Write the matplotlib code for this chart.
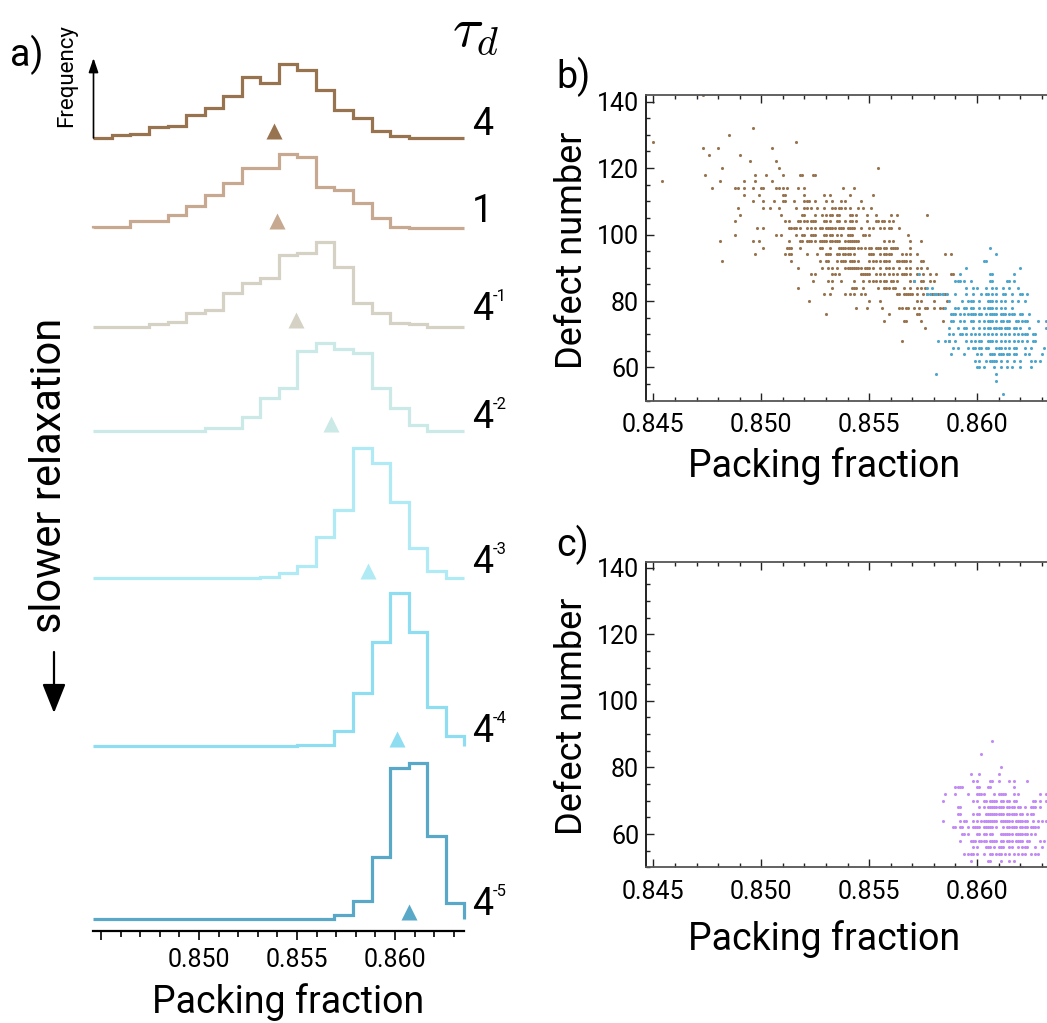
import numpy as np
import matplotlib
matplotlib.use("Agg")
import matplotlib.pyplot as plt
from matplotlib.patches import FancyArrowPatch
from matplotlib.ticker import MultipleLocator, FixedLocator

plt.rcParams['font.family'] = ['Roboto', 'Liberation Sans', 'DejaVu Sans']
plt.rcParams['font.weight'] = 'normal'

# ---------------- data: panel a (histograms) ----------------
BIN_LO, BIN_HI, N_BINS = 0.84461, 0.86354, 20
tau_base = ['4', '1', '4', '4', '4', '4', '4']
tau_exp = ['', '', '-1', '-2', '-3', '-4', '-5']
hist_colors = ['#98734F', '#C6A990', '#D5D2C5', '#CBE9E7', '#B0EBF5', '#8EDDF1', '#5AA8C8']
freq_4 = [0, 2.7, 3.7, 10.7, 11.3, 22.7, 30, 42, 61, 54.3, 74, 67.7, 47.7, 27.7, 19.3, 6.7, 1.7, 0, 0, 0]
freq_1 = [1, 1, 6.7, 6.7, 12.7, 22, 32.7, 45, 59.3, 59.3, 73.7, 71, 40.3, 37.7, 24.3, 9.3, 1, 0, 0, 0]
freq_4m1 = [0, 0, 0, 2.4, 4.4, 14, 16.7, 33.4, 43.4, 48.4, 71.7, 73.4, 85, 60, 23.4, 13.4, 3.4, 2.4, 0, 0]
freq_4m2 = [0, 0, 0, 0, 0, 0, 2.7, 2.7, 13.7, 32.7, 43.3, 80.3, 87.7, 81.7, 78.3, 42.7, 22.7, 6, 0, 0]
freq_4m3 = [0, 0, 0, 0, 0, 0, 0, 0, 0, 1.7, 5, 12.7, 41.7, 68.3, 130, 115, 76, 30, 7.7, 0]
freq_4m4 = [0, 0, 0, 0, 0, 0, 0, 0, 0, 0, 0, 1, 1, 15, 52.7, 104.3, 153, 113.7, 39.3, 10]
freq_4m5 = [0, 0, 0, 0, 0, 0, 0, 0, 0, 0, 0, 0, 0, 4.3, 18.3, 62.7, 151, 156.7, 83.3, 16]
mean_phi = [0.85383, 0.85400, 0.85495, 0.85672, 0.85864, 0.86012, 0.86071]

# ---------------- data: panels b and c (defect number vs packing fraction) ----------------
brown_rows = {
    142: [0.8473], 132: [0.8496], 130: [0.8485], 128: [0.8450, 0.8516],
    126: [0.8473, 0.8480, 0.8505], 124: [0.8476, 0.8490], 122: [0.8495, 0.8507],
    120: [0.8482, 0.8508, 0.8554],
    118: [0.8474, 0.8497, 0.8502, 0.8510, 0.8518, 0.8519, 0.8524, 0.8525],
    116: [0.8454, 0.8481, 0.8492, 0.8497, 0.8505],
    114: [0.8477, 0.8488, 0.8489, 0.8492, 0.8496, 0.8500, 0.8501, 0.8507, 0.8508, 0.8510, 0.8512, 0.8517, 0.8520, 0.8538, 0.8543],
    112: [0.8492, 0.8499, 0.8510, 0.8511, 0.8520, 0.8529, 0.8532, 0.8541, 0.8552],
    110: [0.8496, 0.8501, 0.8506, 0.8510, 0.8511, 0.8515, 0.8520, 0.8521, 0.8522, 0.8525, 0.8530, 0.8533, 0.8537, 0.8539, 0.8546],
    108: [0.8489, 0.8501, 0.8504, 0.8508, 0.8516, 0.8520, 0.8521, 0.8523, 0.8526, 0.8529, 0.8533, 0.8534, 0.8536, 0.8537, 0.8539, 0.8541, 0.8545, 0.8547, 0.8551],
    106: [0.8490, 0.8509, 0.8519, 0.8520, 0.8525, 0.8528, 0.8530, 0.8532, 0.8533, 0.8535, 0.8536, 0.8541, 0.8542, 0.8544, 0.8549, 0.8553, 0.8560, 0.8563, 0.8577],
    104: [0.8488, 0.8511, 0.8513, 0.8517, 0.8518, 0.8520, 0.8521, 0.8523, 0.8524, 0.8525, 0.8529, 0.8530, 0.8532, 0.8535, 0.8536, 0.8539, 0.8541, 0.8542, 0.8544, 0.8549, 0.8553, 0.8554, 0.8556, 0.8557, 0.8559, 0.8561],
    102: [0.8498, 0.8501, 0.8513, 0.8514, 0.8515, 0.8516, 0.8518, 0.8521, 0.8523, 0.8525, 0.8527, 0.8528, 0.8530, 0.8531, 0.8532, 0.8533, 0.8534, 0.8536, 0.8537, 0.8538, 0.8540, 0.8541, 0.8542, 0.8543, 0.8546, 0.8550, 0.8552, 0.8555, 0.8557, 0.8559, 0.8560, 0.8564],
    100: [0.8488, 0.8507, 0.8509, 0.8516, 0.8519, 0.8520, 0.8523, 0.8524, 0.8525, 0.8529, 0.8530, 0.8532, 0.8533, 0.8535, 0.8537, 0.8540, 0.8541, 0.8542, 0.8547, 0.8548, 0.8550, 0.8568],
    98: [0.8481, 0.8496, 0.8499, 0.8513, 0.8518, 0.8519, 0.8521, 0.8522, 0.8523, 0.8525, 0.8527, 0.8528, 0.8529, 0.8530, 0.8532, 0.8533, 0.8534, 0.8535, 0.8536, 0.8539, 0.8540, 0.8541, 0.8542, 0.8543, 0.8544, 0.8545, 0.8557, 0.8559, 0.8561, 0.8569, 0.8574],
    96: [0.8501, 0.8512, 0.8513, 0.8514, 0.8518, 0.8527, 0.8528, 0.8532, 0.8536, 0.8537, 0.8538, 0.8539, 0.8540, 0.8541, 0.8542, 0.8543, 0.8545, 0.8546, 0.8548, 0.8550, 0.8551, 0.8553, 0.8554, 0.8555, 0.8557, 0.8558, 0.8560, 0.8561, 0.8562, 0.8563, 0.8569],
    94: [0.8497, 0.8511, 0.8513, 0.8514, 0.8521, 0.8526, 0.8530, 0.8531, 0.8532, 0.8535, 0.8536, 0.8538, 0.8539, 0.8540, 0.8541, 0.8543, 0.8550, 0.8551, 0.8552, 0.8555, 0.8557, 0.8558, 0.8559, 0.8560, 0.8565, 0.8567, 0.8569, 0.8572, 0.8585, 0.8588],
    92: [0.8482, 0.8514, 0.8527, 0.8530, 0.8531, 0.8535, 0.8537, 0.8538, 0.8539, 0.8541, 0.8542, 0.8543, 0.8545, 0.8550, 0.8552, 0.8553, 0.8555, 0.8557, 0.8558, 0.8559, 0.8563, 0.8564, 0.8565, 0.8566, 0.8567, 0.8569, 0.8574, 0.8575],
    90: [0.8517, 0.8528, 0.8531, 0.8533, 0.8535, 0.8539, 0.8540, 0.8541, 0.8542, 0.8543, 0.8544, 0.8545, 0.8546, 0.8548, 0.8549, 0.8550, 0.8552, 0.8555, 0.8558, 0.8559, 0.8561, 0.8564, 0.8567, 0.8569, 0.8572, 0.8574, 0.8577],
    88: [0.8523, 0.8525, 0.8533, 0.8534, 0.8536, 0.8546, 0.8547, 0.8548, 0.8549, 0.8550, 0.8553, 0.8555, 0.8557, 0.8559, 0.8561, 0.8563, 0.8565, 0.8566, 0.8567, 0.8569, 0.8572, 0.8575, 0.8578, 0.8581, 0.8588, 0.8589],
    86: [0.8524, 0.8531, 0.8533, 0.8537, 0.8543, 0.8547, 0.8550, 0.8552, 0.8553, 0.8555, 0.8557, 0.8558, 0.8560, 0.8561, 0.8563, 0.8569, 0.8571, 0.8574, 0.8575, 0.8578, 0.8580],
    84: [0.8517, 0.8533, 0.8542, 0.8543, 0.8544, 0.8547, 0.8554, 0.8557, 0.8558, 0.8559, 0.8561, 0.8562, 0.8566, 0.8569, 0.8572, 0.8574, 0.8576],
    82: [0.8529, 0.8532, 0.8539, 0.8541, 0.8543, 0.8546, 0.8548, 0.8563, 0.8564, 0.8566, 0.8567, 0.8568, 0.8569, 0.8570, 0.8572, 0.8575, 0.8577, 0.8579, 0.8580, 0.8582, 0.8584, 0.8585],
    80: [0.8522, 0.8550, 0.8555, 0.8572, 0.8574, 0.8580, 0.8586],
    78: [0.8544, 0.8549, 0.8556, 0.8564, 0.8565, 0.8567, 0.8568, 0.8571, 0.8573, 0.8576, 0.8577, 0.8580, 0.8583, 0.8584],
    76: [0.8530, 0.8559, 0.8572, 0.8573],
    74: [0.8557, 0.8566, 0.8567, 0.8574, 0.8584],
    72: [0.8576],
    68: [0.8565, 0.8587],
}
blue_rows = {
    96: [0.8606], 94: [0.8609], 92: [0.8603, 0.8604], 90: [0.8595, 0.8620],
    88: [0.8573, 0.8592, 0.8606, 0.8607, 0.8617],
    86: [0.8571, 0.8590, 0.8591, 0.8592, 0.8594, 0.8597, 0.8606, 0.8607, 0.8614, 0.8615, 0.8617],
    84: [0.8577, 0.8579, 0.8595, 0.8598, 0.8600, 0.8604, 0.8607, 0.8609, 0.8612, 0.8615, 0.8619],
    82: [0.8577, 0.8578, 0.8580, 0.8581, 0.8583, 0.8584, 0.8586, 0.8590, 0.8595, 0.8598, 0.8602, 0.8604, 0.8605, 0.8607, 0.8609, 0.8612, 0.8613, 0.8616, 0.8620, 0.8621, 0.8623],
    80: [0.8587, 0.8593, 0.8596, 0.8597, 0.8598, 0.8601, 0.8605, 0.8606, 0.8607, 0.8609, 0.8611, 0.8613, 0.8616, 0.8619, 0.8622],
    78: [0.8585, 0.8590, 0.8591, 0.8594, 0.8595, 0.8597, 0.8598, 0.8601, 0.8603, 0.8605, 0.8606, 0.8607, 0.8609, 0.8611, 0.8613, 0.8616],
    76: [0.8588, 0.8589, 0.8590, 0.8592, 0.8594, 0.8596, 0.8597, 0.8598, 0.8599, 0.8601, 0.8602, 0.8604, 0.8606, 0.8607, 0.8608, 0.8609, 0.8611, 0.8612, 0.8613, 0.8615, 0.8616, 0.8617, 0.8620, 0.8621, 0.8624],
    74: [0.8588, 0.8589, 0.8592, 0.8594, 0.8597, 0.8598, 0.8601, 0.8603, 0.8605, 0.8606, 0.8607, 0.8609, 0.8611, 0.8612, 0.8614, 0.8615, 0.8618, 0.8619, 0.8621, 0.8622, 0.8623, 0.8628, 0.8632],
    72: [0.8587, 0.8591, 0.8594, 0.8595, 0.8598, 0.8601, 0.8603, 0.8605, 0.8606, 0.8608, 0.8609, 0.8610, 0.8611, 0.8613, 0.8614, 0.8615, 0.8617, 0.8618, 0.8620, 0.8624, 0.8632],
    70: [0.8587, 0.8589, 0.8592, 0.8593, 0.8595, 0.8597, 0.8599, 0.8601, 0.8603, 0.8605, 0.8607, 0.8609, 0.8611, 0.8613, 0.8615, 0.8617, 0.8619, 0.8621, 0.8622, 0.8623, 0.8626, 0.8627],
    68: [0.8582, 0.8585, 0.8587, 0.8590, 0.8595, 0.8597, 0.8599, 0.8601, 0.8602, 0.8605, 0.8606, 0.8607, 0.8609, 0.8611, 0.8613, 0.8615, 0.8617, 0.8619, 0.8621, 0.8623, 0.8626, 0.8627],
    66: [0.8589, 0.8591, 0.8596, 0.8598, 0.8599, 0.8601, 0.8602, 0.8604, 0.8605, 0.8609, 0.8610, 0.8611, 0.8613, 0.8615, 0.8617, 0.8618, 0.8622, 0.8625, 0.8631],
    64: [0.8588, 0.8594, 0.8600, 0.8602, 0.8606, 0.8607, 0.8608, 0.8610, 0.8611, 0.8612, 0.8614, 0.8615, 0.8617, 0.8618, 0.8622, 0.8624, 0.8630],
    62: [0.8599, 0.8601, 0.8604, 0.8606, 0.8607, 0.8608, 0.8609, 0.8611, 0.8614, 0.8617, 0.8620, 0.8625, 0.8627, 0.8629],
    60: [0.8600, 0.8601, 0.8603, 0.8608, 0.8611, 0.8614, 0.8616, 0.8620, 0.8625],
    58: [0.8581, 0.8609], 56: [0.8609], 52: [0.8612],
}
purple_rows = {
    88: [0.8607], 84: [0.8602], 80: [0.8611], 78: [0.8597, 0.8601, 0.8610],
    76: [0.8598, 0.8600, 0.8606, 0.8607, 0.8610, 0.8615, 0.8617, 0.8623],
    74: [0.8590, 0.8591, 0.8592, 0.8593, 0.8600, 0.8601, 0.8605, 0.8606, 0.8617],
    72: [0.8585, 0.8590, 0.8596, 0.8600, 0.8601, 0.8602, 0.8603, 0.8608, 0.8610, 0.8611, 0.8612, 0.8613, 0.8617, 0.8619, 0.8629, 0.8632],
    70: [0.8584, 0.8598, 0.8600, 0.8603, 0.8604, 0.8606, 0.8607, 0.8608, 0.8609, 0.8611, 0.8612, 0.8614, 0.8615, 0.8617, 0.8618, 0.8626, 0.8627, 0.8629, 0.8632],
    68: [0.8591, 0.8592, 0.8601, 0.8603, 0.8605, 0.8606, 0.8607, 0.8608, 0.8609, 0.8610, 0.8611, 0.8612, 0.8614, 0.8615, 0.8616, 0.8617, 0.8619, 0.8620, 0.8622, 0.8625, 0.8626, 0.8627, 0.8629],
    66: [0.8591, 0.8592, 0.8598, 0.8600, 0.8601, 0.8604, 0.8605, 0.8606, 0.8607, 0.8608, 0.8609, 0.8610, 0.8611, 0.8612, 0.8614, 0.8615, 0.8616, 0.8617, 0.8618, 0.8620, 0.8621, 0.8623, 0.8625, 0.8626],
    64: [0.8584, 0.8592, 0.8594, 0.8595, 0.8598, 0.8600, 0.8602, 0.8603, 0.8604, 0.8605, 0.8606, 0.8607, 0.8608, 0.8609, 0.8611, 0.8612, 0.8613, 0.8614, 0.8615, 0.8616, 0.8618, 0.8619, 0.8620, 0.8621, 0.8622, 0.8623, 0.8626, 0.8628, 0.8630, 0.8632],
    62: [0.8589, 0.8590, 0.8592, 0.8593, 0.8596, 0.8598, 0.8599, 0.8600, 0.8601, 0.8603, 0.8604, 0.8605, 0.8606, 0.8607, 0.8609, 0.8612, 0.8614, 0.8615, 0.8616, 0.8617, 0.8618, 0.8620, 0.8621, 0.8622, 0.8623, 0.8625, 0.8626, 0.8627, 0.8628],
    60: [0.8593, 0.8594, 0.8596, 0.8600, 0.8601, 0.8603, 0.8604, 0.8606, 0.8607, 0.8611, 0.8612, 0.8613, 0.8614, 0.8615, 0.8616, 0.8618, 0.8619, 0.8620, 0.8621, 0.8622, 0.8623, 0.8625, 0.8627],
    58: [0.8592, 0.8597, 0.8598, 0.8599, 0.8601, 0.8602, 0.8603, 0.8604, 0.8606, 0.8607, 0.8608, 0.8609, 0.8611, 0.8612, 0.8614, 0.8615, 0.8616, 0.8618, 0.8619, 0.8620, 0.8621, 0.8623, 0.8624, 0.8629, 0.8631],
    56: [0.8598, 0.8600, 0.8604, 0.8605, 0.8606, 0.8608, 0.8610, 0.8611, 0.8612, 0.8615, 0.8616, 0.8619, 0.8621, 0.8622, 0.8623, 0.8627, 0.8630],
    54: [0.8594, 0.8596, 0.8597, 0.8598, 0.8600, 0.8603, 0.8606, 0.8607, 0.8609, 0.8610, 0.8611, 0.8613, 0.8615, 0.8617, 0.8619, 0.8621, 0.8622, 0.8625, 0.8627, 0.8628],
    52: [0.8597, 0.8605, 0.8606, 0.8611, 0.8615, 0.8617],
    50: [0.8621],
}
scatter_colors = {'brown': '#98734F', 'blue': '#4FA6CC', 'purple': '#C28CF4'}
x_ticks = [0.845, 0.850, 0.855, 0.860]
y_ticks = [60, 80, 100, 120, 140]


def flatten(rows):
    xs, ys = [], []
    for d, phis in rows.items():
        xs.extend(phis)
        ys.extend([d] * len(phis))
    return np.array(xs), np.array(ys)


# ---------------- layout helpers (pixels -> figure fraction) ----------------
W, H = 1047, 1023
fig = plt.figure(figsize=(W / 100, H / 100), dpi=100)


def fx(px):
    return px / W


def fy(py):
    return 1 - py / H


def box(l, t, r, b):
    return [fx(l), fy(b), (r - l) / W, (b - t) / H]


# ---------------- panel a ----------------
ax_a = fig.add_axes(box(93.3, 40, 464.3, 931))
ax_a.set_xlim(BIN_LO, BIN_HI)
ax_a.set_ylim(0, 891)
edges = np.linspace(BIN_LO, BIN_HI, N_BINS + 1)
freqs = [freq_4, freq_1, freq_4m1, freq_4m2, freq_4m3, freq_4m4, freq_4m5]
offsets = [793.3, 703.3, 604.3, 500.0, 352.7, 185.0, 11.7]   # vertical stacking (layout)
for f, off, c, m in zip(freqs, offsets, hist_colors, mean_phi):
    ax_a.stairs(off + np.array(f), edges, baseline=off, color=c, lw=2.3,
                joinstyle='miter', clip_on=False)
    ax_a.plot([m], [off + 7], marker='^', ms=11.5, color=c, mec='none', clip_on=False)

for s in ['top', 'right', 'left']:
    ax_a.spines[s].set_visible(False)
ax_a.spines['bottom'].set_linewidth(1.6)
ax_a.set_yticks([])
ax_a.xaxis.set_major_locator(FixedLocator(x_ticks))
ax_a.set_xticklabels(['', '0.850', '0.855', '0.860'])
ax_a.xaxis.set_minor_locator(MultipleLocator(0.001))
ax_a.tick_params(axis='x', which='major', direction='out', length=6.5, width=1.2, labelsize=18, pad=6)
ax_a.tick_params(axis='x', which='minor', direction='out', length=4, width=1.2)

label_baselines = [135, 221.7, 320, 428.3, 573.3, 741.7, 915]
for b, e, yb in zip(tau_base, tau_exp, label_baselines):
    fig.text(fx(472), fy(yb), b, fontsize=27, ha='left', va='baseline')
    if e:
        fig.text(fx(493), fy(yb - 19), e, fontsize=12, ha='left', va='baseline')

fig.text(fx(476), fy(30), r'$\tau_d$', fontsize=41, ha='center', va='center', math_fontfamily='cm')
fig.text(fx(27), fy(55), 'a)', fontsize=27, ha='center', va='center')
fig.text(fx(67), fy(76), 'Frequency', fontsize=16, rotation=90, ha='center', va='center')
fig.add_artist(FancyArrowPatch((fx(93.5), fy(138)), (fx(93.5), fy(58)), transform=fig.transFigure,
                               arrowstyle='-|>,head_length=0.86,head_width=0.29', mutation_scale=10,
                               lw=1.2, color='black', shrinkA=0, shrinkB=0))
fig.text(fx(50), fy(475), 'slower relaxation', fontsize=30, rotation=90, ha='center', va='center')
fig.add_artist(FancyArrowPatch((fx(54), fy(652)), (fx(54), fy(713)), transform=fig.transFigure,
                               arrowstyle='-|>,head_length=1.8,head_width=0.72', mutation_scale=10,
                               lw=1.6, color='black', shrinkA=0, shrinkB=0))
fig.text(fx(288.5), fy(1013.3), 'Packing fraction', fontsize=27, ha='center', va='baseline')


# ---------------- panels b and c ----------------
def style_scatter_axes(ax, ytop):
    ax.set_xlim(0.84466, 0.86324)
    ax.set_ylim(50, ytop)
    ax.xaxis.set_major_locator(FixedLocator(x_ticks))
    ax.xaxis.set_minor_locator(MultipleLocator(0.001))
    ax.yaxis.set_major_locator(FixedLocator(y_ticks))
    ax.yaxis.set_minor_locator(MultipleLocator(5))
    ax.set_xticklabels(['0.845', '0.850', '0.855', '0.860'])
    ax.tick_params(which='both', direction='in', top=True, right=False, width=1.0, colors='#222222',
                   labelcolor='black')
    ax.tick_params(which='major', length=5.5)
    ax.tick_params(which='minor', length=3)
    ax.tick_params(axis='both', labelsize=18)
    ax.tick_params(axis='x', pad=9)
    ax.tick_params(axis='y', pad=5)
    ax.spines['right'].set_visible(False)
    ax.spines['left'].set_color('#111111')
    ax.spines['top'].set_color('#555555')
    ax.spines['bottom'].set_color('#555555')
    for s in ['left', 'top', 'bottom']:
        ax.spines[s].set_linewidth(1.3)


ax_b = fig.add_axes(box(646, 95, 1047, 400.7))
style_scatter_axes(ax_b, 142)
bx, by = flatten(brown_rows)
ux, uy = flatten(blue_rows)
ax_b.scatter(bx, by, s=5, color=scatter_colors['brown'], linewidths=0, clip_on=True)
ax_b.scatter(ux, uy, s=5, color=scatter_colors['blue'], linewidths=0, clip_on=True)

ax_c = fig.add_axes(box(646, 561.7, 1047, 867.3))
style_scatter_axes(ax_c, 141.8)
px_, py_ = flatten(purple_rows)
ax_c.scatter(px_, py_, s=5, color=scatter_colors['purple'], linewidths=0)

fig.text(fx(572), fy(250), 'Defect number', fontsize=26, rotation=90, ha='center', va='center')
fig.text(fx(572), fy(716), 'Defect number', fontsize=26, rotation=90, ha='center', va='center')
fig.text(fx(824.5), fy(476.7), 'Packing fraction', fontsize=27, ha='center', va='baseline')
fig.text(fx(824.5), fy(950), 'Packing fraction', fontsize=27, ha='center', va='baseline')
fig.text(fx(573), fy(77), 'b)', fontsize=27, ha='center', va='center')
fig.text(fx(573), fy(545), 'c)', fontsize=27, ha='center', va='center')

fig.savefig('out.png', dpi=100)
